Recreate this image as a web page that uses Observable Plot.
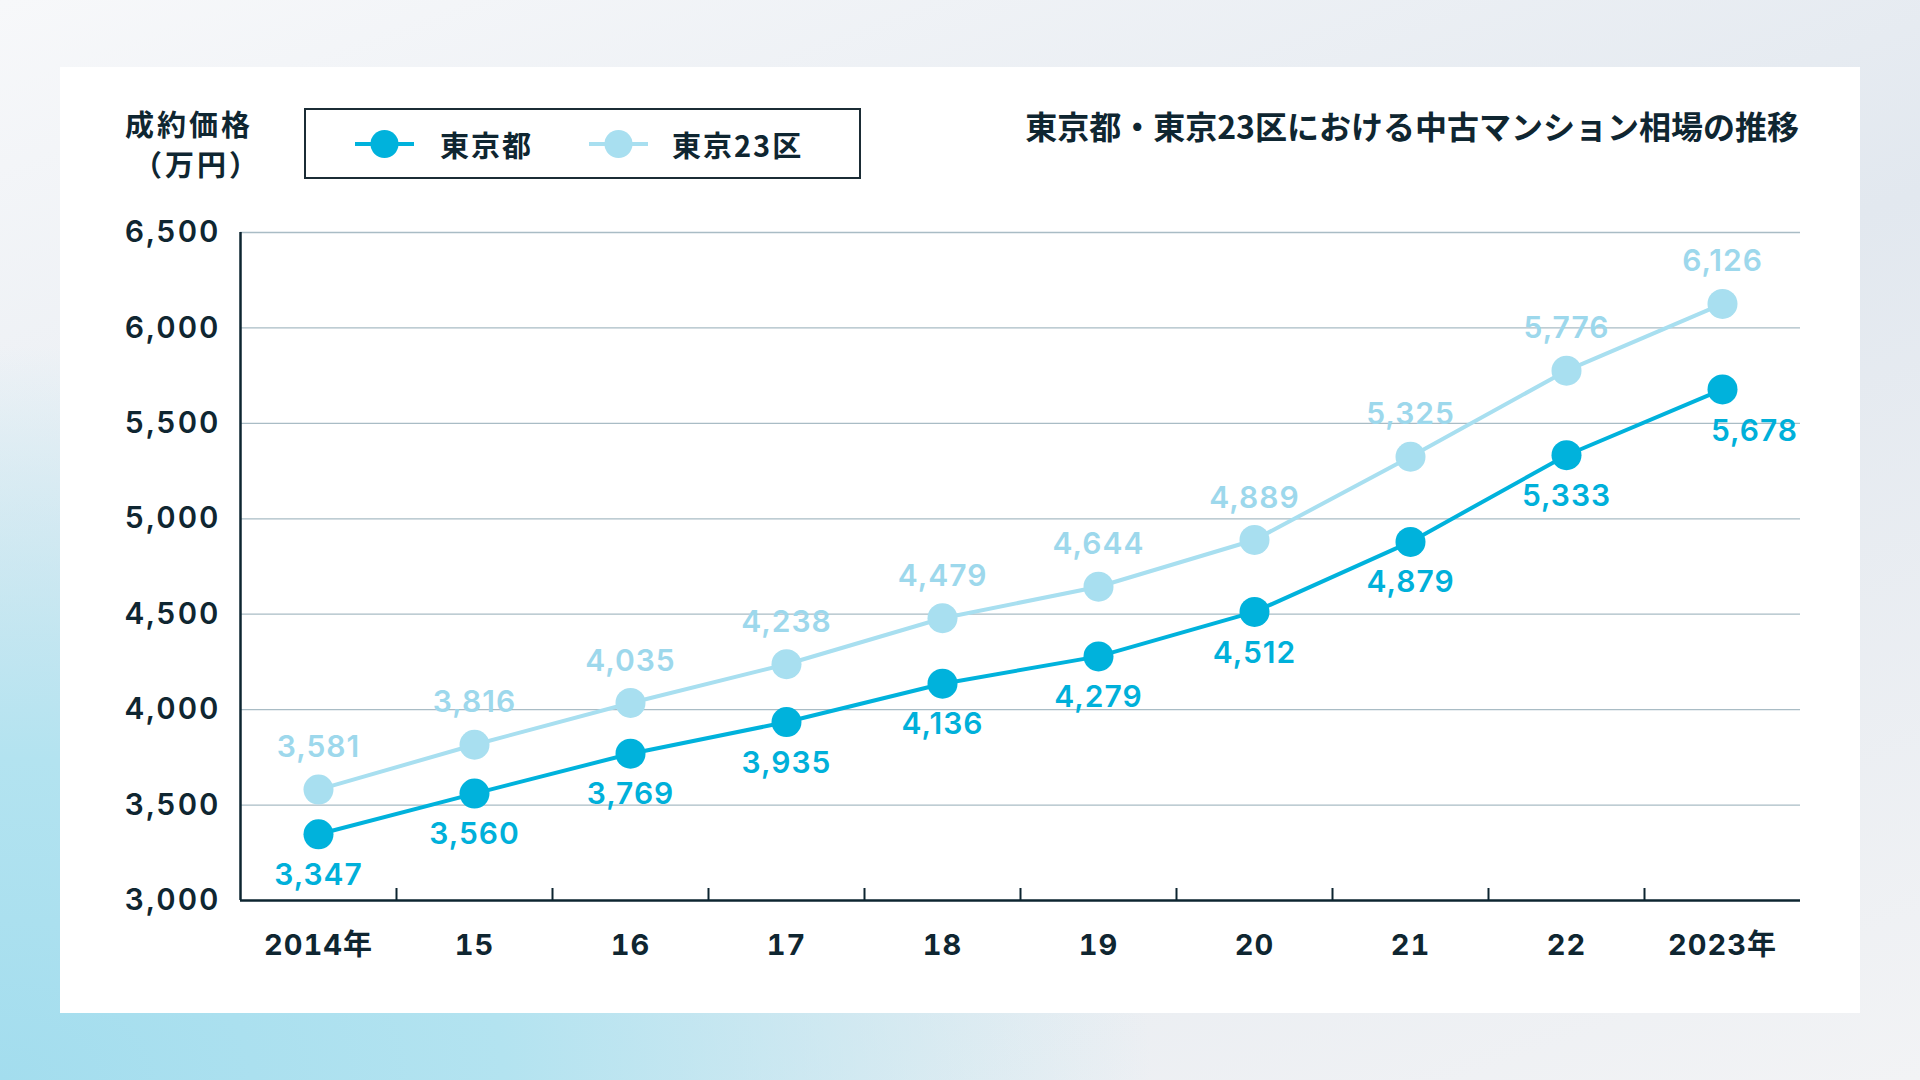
<!DOCTYPE html>
<html>
<head>
<meta charset="utf-8">
<script src="https://cdn.jsdelivr.net/npm/d3@7"></script>
<script src="https://cdn.jsdelivr.net/npm/@observablehq/plot@0.6"></script>
<style>
  html, body { margin: 0; padding: 0; }
  body {
    width: 1920px; height: 1080px; position: relative; overflow: hidden;
    font-family: "Noto Sans CJK JP", "Noto Sans", sans-serif;
    color: #0f2631;
    background:
      radial-gradient(ellipse 75% 85% at 0% 100%, #a3ddee 0%, #b3e3f0 35%, rgba(205,236,245,0) 80%),
      linear-gradient(160deg, #f7f8fa 0%, #e2e8ef 50%, #f2f3f5 100%);
  }
  #panel { position: absolute; left: 60px; top: 67px; width: 1800px; height: 946px; background: #fff; }
  #chart { position: absolute; left: 0; top: 113px; }
  #chart svg text { letter-spacing: 1px; }
  #chart svg g[aria-label="y-axis tick label"] text { letter-spacing: 2px; }
  #title {
    position: absolute; right: 61px; top: 40px; font-size: 32px; line-height: 36px;
    font-weight: 700; white-space: nowrap;
  }
  .ytitle {
    position: absolute; font-size: 29px; line-height: 30px; font-weight: 700;
    letter-spacing: 3px; white-space: nowrap; text-align: right;
  }
  #legend {
    position: absolute; left: 244px; top: 41px; width: 557px; height: 71px;
    box-sizing: border-box; border: 2px solid #1b2c35; background: #fff;
  }
  #legend svg { position: absolute; left: 0; top: 0; }
</style>
</head>
<body>
<div id="panel">
  <div id="title"></div>
  <div class="ytitle" id="ytitle1"></div>
  <div class="ytitle" id="ytitle2"></div>
  <div id="legend"></div>
  <div id="chart"></div>
</div>
<script>
// ---- data ----
const years = [2014, 2015, 2016, 2017, 2018, 2019, 2020, 2021, 2022, 2023];
const xTickLabels = ["2014年", "15", "16", "17", "18", "19", "20", "21", "22", "2023年"];
const tokyoTo = [3347, 3560, 3769, 3935, 4136, 4279, 4512, 4879, 5333, 5678];
const tokyo23 = [3581, 3816, 4035, 4238, 4479, 4644, 4889, 5325, 5776, 6126];
const seriesNames = ["東京都", "東京23区"];
const yTicks = [3000, 3500, 4000, 4500, 5000, 5500, 6000, 6500];
const titleText = "東京都・東京23区における中古マンション相場の推移";
const yTitleLines = ["成約価格", "（万円）"];

// ---- styles ----
const DARK = "#00b2dc";
const LIGHT = "#a8dff0";
const DARK_LABEL = "#00b0da";
const LIGHT_LABEL = "#9dd8ec";
const TEXT = "#0f2631";
const AXIS = "#0d2530";
const GRID = "#a9bcc5";
const NUMFONT = "Inter, 'Noto Sans CJK JP', sans-serif";

// ---- texts ----
document.getElementById("title").textContent = titleText;
const yt1 = document.getElementById("ytitle1");
yt1.textContent = yTitleLines[0];
yt1.style.right = (1800 - 193) + "px"; yt1.style.top = "41px";
const yt2 = document.getElementById("ytitle2");
yt2.textContent = yTitleLines[1];
yt2.style.right = (1800 - 201) + "px"; yt2.style.top = "81px";

// ---- legend ----
(function () {
  const ns = "http://www.w3.org/2000/svg";
  const svg = document.createElementNS(ns, "svg");
  svg.setAttribute("width", 553); svg.setAttribute("height", 67);
  const items = [
    {name: seriesNames[0], color: DARK, lx: 49, tx: 134},
    {name: seriesNames[1], color: LIGHT, lx: 283, tx: 366}
  ];
  for (const it of items) {
    const line = document.createElementNS(ns, "line");
    line.setAttribute("x1", it.lx); line.setAttribute("x2", it.lx + 59);
    line.setAttribute("y1", 34); line.setAttribute("y2", 34);
    line.setAttribute("stroke", it.color); line.setAttribute("stroke-width", 4);
    svg.appendChild(line);
    const c = document.createElementNS(ns, "circle");
    c.setAttribute("cx", it.lx + 29.5); c.setAttribute("cy", 34); c.setAttribute("r", 14);
    c.setAttribute("fill", it.color);
    svg.appendChild(c);
    const t = document.createElementNS(ns, "text");
    t.setAttribute("x", it.tx); t.setAttribute("y", 34);
    t.setAttribute("dominant-baseline", "central");
    t.setAttribute("font-size", 29); t.setAttribute("font-weight", 700);
    t.setAttribute("letter-spacing", "2px");
    t.setAttribute("fill", TEXT);
    t.setAttribute("font-family", "'Noto Sans CJK JP', sans-serif");
    t.textContent = it.name;
    svg.appendChild(t);
  }
  document.getElementById("legend").appendChild(svg);
})();

// ---- chart ----
const rowsTo = years.map((yr, i) => ({year: yr, value: tokyoTo[i], series: seriesNames[0]}));
const rows23 = years.map((yr, i) => ({year: yr, value: tokyo23[i], series: seriesNames[1]}));
const rows = rows23.concat(rowsTo);
const xDomain = [years[0] - 0.5, years[years.length - 1] + 0.5];
const boundaries = years.slice(1).map(y => y - 0.5);
const labelMap = new Map(years.map((y, i) => [y, xTickLabels[i]]));
const fmt = d3.format(",");
const n = years.length;

const chart = Plot.plot({
  width: 1800,
  height: 833,
  marginLeft: 180,
  marginRight: 60,
  marginTop: 52,
  marginBottom: 113,
  style: {background: "transparent", fontFamily: NUMFONT, color: TEXT},
  x: {type: "linear", domain: xDomain},
  y: {domain: [yTicks[0], yTicks[yTicks.length - 1]]},
  color: {domain: seriesNames, range: [DARK, LIGHT]},
  marks: [
    Plot.gridY(yTicks.slice(1), {stroke: GRID, strokeOpacity: 1, strokeWidth: 1.3}),
    Plot.axisY(yTicks, {tickSize: 0, tickPadding: 20, tickFormat: fmt, fontSize: 30, fontWeight: 600, fill: TEXT, label: null}),
    Plot.axisX(years, {tickSize: 0, tickPadding: 34, tickFormat: d => labelMap.get(d), fontSize: 29, fontWeight: 700, fill: TEXT, label: null}),
    Plot.axisX(boundaries, {tickSize: -12, tickFormat: () => "", stroke: AXIS, strokeWidth: 2, label: null}),
    Plot.ruleX([xDomain[0]], {stroke: AXIS, strokeWidth: 2.5}),
    Plot.ruleY([yTicks[0]], {stroke: AXIS, strokeWidth: 2.5}),
    Plot.line(rows, {x: "year", y: "value", z: "series", stroke: "series", strokeWidth: 4}),
    Plot.dot(rows, {x: "year", y: "value", fill: "series", r: 15}),
    Plot.text(rows23, {x: "year", y: "value", text: d => fmt(d.value), dy: -42, fill: LIGHT_LABEL, fontSize: 30, fontWeight: 600}),
    Plot.text(rowsTo, {filter: (d, i) => i < n - 1, x: "year", y: "value", text: d => fmt(d.value), dy: 41, fill: DARK_LABEL, fontSize: 30, fontWeight: 600}),
    Plot.text(rowsTo, {filter: (d, i) => i === n - 1, x: "year", y: "value", text: d => fmt(d.value), dx: 32, dy: 42, fill: DARK_LABEL, fontSize: 30, fontWeight: 600})
  ]
});
document.getElementById("chart").appendChild(chart);
</script>
</body>
</html>
